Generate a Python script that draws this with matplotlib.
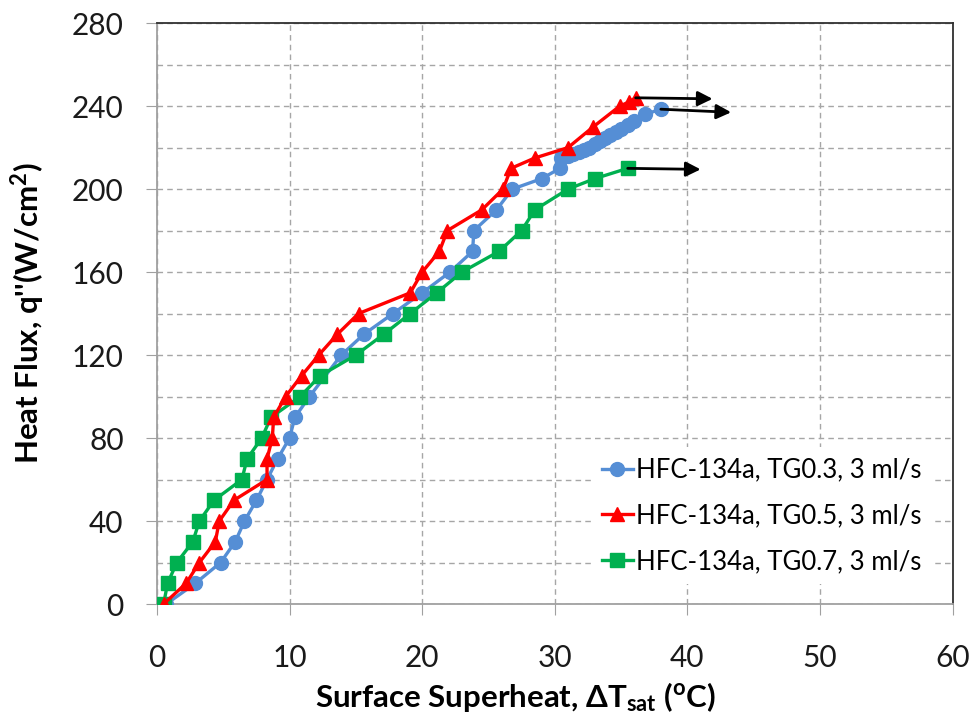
import matplotlib
matplotlib.use("Agg")
import matplotlib.pyplot as plt

plt.rcParams["font.family"] = ["Lato", "DejaVu Sans"]
plt.rcParams["mathtext.fontset"] = "custom"
plt.rcParams["mathtext.rm"] = "Lato"
plt.rcParams["mathtext.bf"] = "Lato:bold"
plt.rcParams["mathtext.it"] = "Lato:italic"

# TG0.3 (blue circles)
tg03_x = [0.7, 2.9, 4.8, 5.9, 6.6, 7.5, 8.3, 9.1, 10.0, 10.4, 11.5, 13.9, 15.6, 17.8,
          20.0, 22.1, 23.8, 23.9, 25.6, 26.8, 29.0, 30.4, 30.5, 31.0, 31.4, 31.8, 32.2,
          32.6, 33.0, 33.4, 33.8, 34.2, 34.6, 35.0, 35.5, 36.0, 36.8, 38.0]
tg03_q = [0, 10, 20, 30, 40, 50, 60, 70, 80, 90, 100, 120, 130, 140,
          150, 160, 170, 180, 190, 200, 205, 210, 215, 216, 217, 218, 219,
          220, 221.5, 223, 224.5, 226, 227.5, 229, 231, 233, 236, 238.5]

# TG0.5 (red triangles)
tg05_x = [0.5, 2.2, 3.2, 4.4, 4.7, 5.8, 8.3, 8.3, 8.7, 8.8, 9.7, 10.9, 12.2, 13.6,
          15.2, 19.1, 20.0, 21.3, 21.9, 24.5, 26.1, 26.7, 28.5, 31.0, 32.9, 34.9,
          35.6, 36.1]
tg05_q = [0, 10, 20, 30, 40, 50, 60, 70, 80, 90, 100, 110, 120, 130,
          140, 150, 160, 170, 180, 190, 200, 210, 215, 220, 230, 240,
          242, 244]

# TG0.7 (green squares)
tg07_x = [0.5, 0.8, 1.5, 2.7, 3.2, 4.3, 6.4, 6.8, 7.9, 8.6, 10.8, 12.3, 15.0, 17.1,
          19.1, 21.1, 23.0, 25.8, 27.5, 28.5, 31.0, 33.0, 35.5]
tg07_q = [0, 10, 20, 30, 40, 50, 60, 70, 80, 90, 100, 110, 120, 130,
          140, 150, 160, 170, 180, 190, 200, 205, 210]

labels = ["HFC-134a, TG0.3, 3 ml/s", "HFC-134a, TG0.5, 3 ml/s", "HFC-134a, TG0.7, 3 ml/s"]

# arrow tips (x, q) to the right of the last points
arrow_tips = [(43.3, 237), (41.9, 243.5), (41.0, 209.5)]

fig = plt.figure(figsize=(9.75, 7.22), dpi=100)
ax = fig.add_axes([0.161, 0.1634, 0.816, 0.8046])

ax.plot(tg03_x, tg03_q, "-o", color="#558ED5", lw=2.4, ms=10, label=labels[0], zorder=3)
ax.plot(tg05_x, tg05_q, "-^", color="#FF0000", lw=2.4, ms=10, label=labels[1], zorder=4)
ax.plot(tg07_x, tg07_q, "-s", color="#00B050", lw=2.4, ms=9.5, label=labels[2], zorder=3)

starts = [(tg03_x[-1], tg03_q[-1]), (tg05_x[-1], tg05_q[-1]), (tg07_x[-1], tg07_q[-1])]
for (x0, y0), (x1, y1) in zip(starts, arrow_tips):
    ax.annotate("", xy=(x1, y1), xytext=(x0, y0),
                arrowprops=dict(arrowstyle="-|>", color="black", lw=2,
                                mutation_scale=22, shrinkA=0, shrinkB=0), zorder=5)

ax.set_xlim(0, 60)
ax.set_ylim(0, 280)
ax.set_xticks(range(0, 61, 10))
ax.set_yticks(range(0, 281, 40))
ax.set_yticks(range(20, 281, 40), minor=True)
ax.tick_params(axis="both", which="major", labelsize=21.5, direction="out", length=8,
               color="#A0A0A0", labelcolor="#1a1a1a")
ax.tick_params(axis="x", which="major", pad=21)
ax.tick_params(axis="y", which="major", pad=16)
ax.tick_params(axis="y", which="minor", length=0)

ax.grid(True, which="both", axis="y", linestyle=(0, (4, 3)), color="#A6A6A6", lw=1)
ax.grid(True, which="major", axis="x", linestyle=(0, (4, 3)), color="#A6A6A6", lw=1)
ax.set_axisbelow(True)

for side in ["left", "bottom"]:
    ax.spines[side].set_color("#A0A0A0")
    ax.spines[side].set_linewidth(1.3)
for side in ["top", "right"]:
    ax.spines[side].set_color("#303030")
    ax.spines[side].set_linewidth(1.3)

ax.set_xlabel(r"Surface Superheat, $\mathbf{\Delta T_{sat}}$ ($^{\mathbf{o}}$C)",
              fontsize=22.5, fontweight="bold")
ax.xaxis.set_label_coords(0.451, -0.13, transform=ax.transAxes)
ax.xaxis.label.set_va("top")
ax.set_ylabel(r"Heat Flux, q''(W/cm$^{\mathbf{2}}$)", fontsize=22.5, fontweight="bold",
              labelpad=18)

leg = ax.legend(loc="lower right", bbox_to_anchor=(0.984, 0.021), fontsize=18.5,
                frameon=True, facecolor="white", edgecolor="none", framealpha=1,
                handlelength=1.2, handletextpad=0.15, labelspacing=0.8, borderaxespad=0.3,
                borderpad=0.4)
leg.set_zorder(6)

fig.savefig("out.png", dpi=100)
